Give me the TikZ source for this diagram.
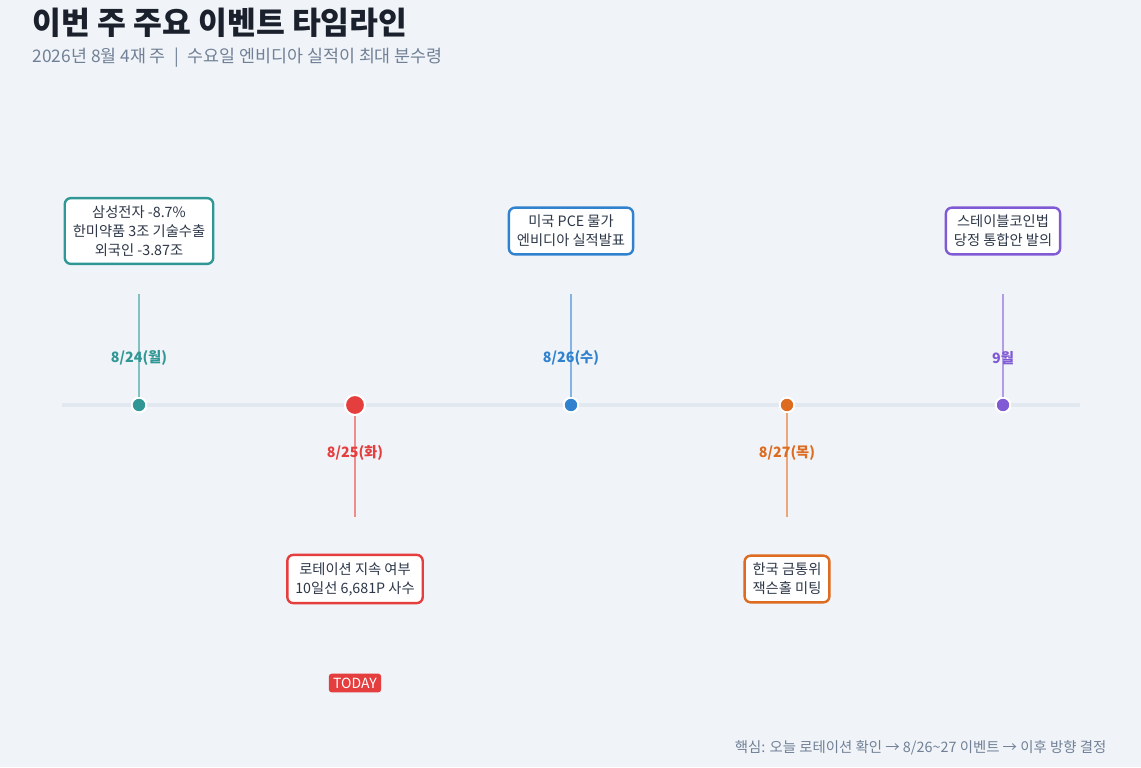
\documentclass[tikz,border=0pt]{standalone}
\usepackage{fontspec}
\setmainfont{Noto Sans CJK KR}
\usepackage{tikz}
\usetikzlibrary{positioning,calc}
\usepackage{xcolor}
\definecolor{bgc}{HTML}{F0F4F8}
\definecolor{axisc}{HTML}{E2E8F0}
\definecolor{inkc}{HTML}{1A202C}
\definecolor{mutedc}{HTML}{718096}
\definecolor{bodyc}{HTML}{2D3748}
\definecolor{monc}{HTML}{319795}
\definecolor{tuec}{HTML}{E53E3E}
\definecolor{wedc}{HTML}{3182CE}
\definecolor{thuc}{HTML}{DD6B20}
\definecolor{sepc}{HTML}{805AD5}

\begin{document}
\begin{tikzpicture}[
    x=0.75pt, y=-0.75pt,
    font=\fontsize{10.7}{14.3}\selectfont,
    evbox/.style={draw=#1, line width=1.8pt, fill=white, rounded corners=4.5pt,
        inner xsep=6pt, inner ysep=5.5pt, align=center, text=bodyc},
    dot/.style={circle, draw=white, line width=1.5pt, fill=#1, inner sep=0pt,
        minimum size=11pt},
    stem/.style={#1!60, line width=1.2pt},
    datelbl/.style={font=\fontsize{10.7}{12}\selectfont\bfseries, text=#1},
]

% background and frame
\fill[bgc] (0,0) rectangle (1141,767);
\useasboundingbox (0,0) rectangle (1141,767);

% === HEADER ===
\node[anchor=west, font=\fontsize{23.5}{28}\selectfont\bfseries, text=inkc] (title) at (28,23) {이번 주 주요 이벤트 타임라인};
\node[anchor=west, font=\fontsize{13}{15}\selectfont, text=mutedc] (sub) at (28,58) {2026년 8월 4재 주 \;|\; 수요일 엔비디아 실적이 최대 분수령};

% === TIMELINE ===
\coordinate (tl) at (62,405);
\coordinate (tr) at (1080,405);
\draw[axisc, line width=3pt] (tl) -- (tr);

% Monday
\node[dot=monc] (d1) at (139,405) {};
\coordinate (s1) at (139,294);
\draw[stem=monc] (d1) -- (s1);
\node[datelbl=monc] (l1) at (139,358) {8/24(월)};
\node[evbox=monc] (b1) at (139,231) {삼성전자 -8.7\%\\한미약품 3조 기술수출\\외국인 -3.87조};

% Tuesday (today)
\node[dot=tuec, minimum size=15pt] (d2) at (355,405) {};
\coordinate (s2) at (355,517);
\draw[stem=tuec] (d2) -- (s2);
\node[datelbl=tuec] (l2) at (355,453) {8/25(화)};
\node[evbox=tuec] (b2) at (355,579) {로테이션 지속 여부\\10일선 6,681P 사수};
\node[fill=tuec, text=white, rounded corners=2pt, inner xsep=3.2pt, inner ysep=3pt,
    font=\fontsize{10.5}{12}\selectfont] (today) at (355,683) {TODAY};

% Wednesday
\node[dot=wedc] (d3) at (571,405) {};
\coordinate (s3) at (571,294);
\draw[stem=wedc] (d3) -- (s3);
\node[datelbl=wedc] (l3) at (571,358) {8/26(수)};
\node[evbox=wedc] (b3) at (571,231) {미국 PCE 물가\\엔비디아 실적발표};

% Thursday
\node[dot=thuc] (d4) at (787,405) {};
\coordinate (s4) at (787,517);
\draw[stem=thuc] (d4) -- (s4);
\node[datelbl=thuc] (l4) at (787,453) {8/27(목)};
\node[evbox=thuc] (b4) at (787,579) {한국 금통위\\잭슨홀 미팅};

% September
\node[dot=sepc] (d5) at (1003,405) {};
\coordinate (s5) at (1003,294);
\draw[stem=sepc] (d5) -- (s5);
\node[datelbl=sepc] (l5) at (1003,358) {9월};
\node[evbox=sepc] (b5) at (1003,231) {스테이블코인법\\당정 통합안 발의};

% === FOOTER ===
\node[anchor=east, text=mutedc, font=\fontsize{10.8}{13}\selectfont] (foot) at (1111,748) {핵심: 오늘 로테이션 확인 → 8/26\textasciitilde27 이벤트 → 이후 방향 결정};

\end{tikzpicture}
\end{document}
